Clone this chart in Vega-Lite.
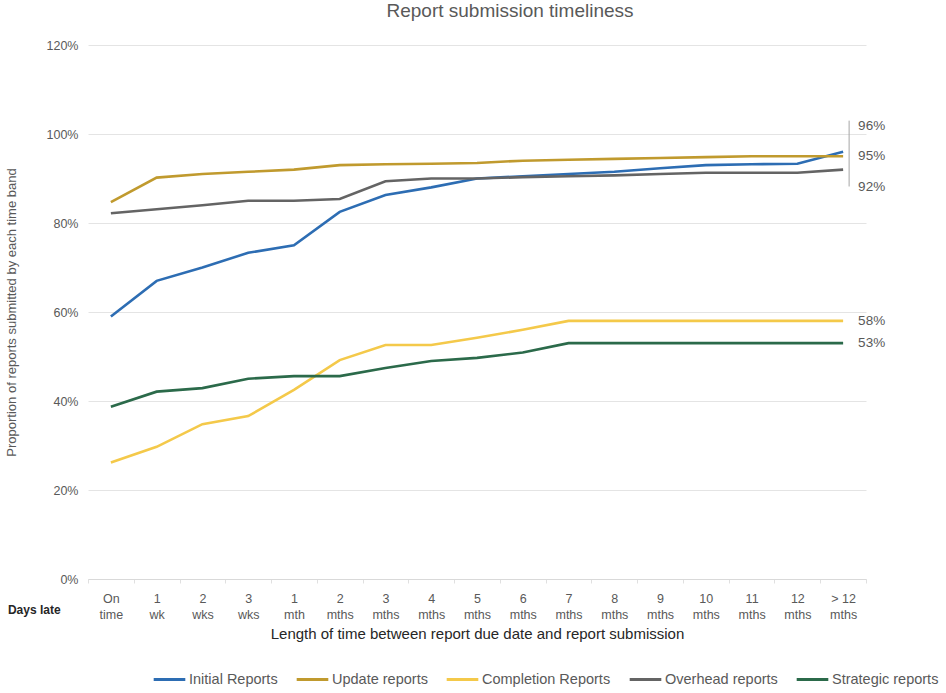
{
  "$schema": "https://vega.github.io/schema/vega-lite/v6.json",
  "width": 778,
  "height": 534,
  "autosize": {"type": "none"},
  "padding": {"left": 88, "top": 45, "right": 80, "bottom": 114},
  "background": "white",
  "title": {
    "text": "Report submission timeliness",
    "fontSize": 19,
    "fontWeight": "normal",
    "color": "#595959",
    "font": "Liberation Sans",
    "anchor": "middle",
    "frame": "group",
    "dx": 33,
    "offset": 18
  },
  "config": {
    "font": "Liberation Sans",
    "view": {"stroke": null},
    "axis": {"labelFont": "Liberation Sans", "titleFont": "Liberation Sans"},
    "legend": {"labelFont": "Liberation Sans"}
  },
  "datasets": {
    "timeliness": [
      {"band": "On time", "Initial Reports": 0.59, "Update reports": 0.847, "Completion Reports": 0.262, "Overhead reports": 0.822, "Strategic reports": 0.387},
      {"band": "1 wk", "Initial Reports": 0.67, "Update reports": 0.902, "Completion Reports": 0.297, "Overhead reports": 0.831, "Strategic reports": 0.421},
      {"band": "2 wks", "Initial Reports": 0.70, "Update reports": 0.91, "Completion Reports": 0.348, "Overhead reports": 0.84, "Strategic reports": 0.429},
      {"band": "3 wks", "Initial Reports": 0.733, "Update reports": 0.915, "Completion Reports": 0.366, "Overhead reports": 0.85, "Strategic reports": 0.45},
      {"band": "1 mth", "Initial Reports": 0.75, "Update reports": 0.92, "Completion Reports": 0.425, "Overhead reports": 0.85, "Strategic reports": 0.456},
      {"band": "2 mths", "Initial Reports": 0.825, "Update reports": 0.93, "Completion Reports": 0.492, "Overhead reports": 0.854, "Strategic reports": 0.456},
      {"band": "3 mths", "Initial Reports": 0.863, "Update reports": 0.932, "Completion Reports": 0.526, "Overhead reports": 0.894, "Strategic reports": 0.474},
      {"band": "4 mths", "Initial Reports": 0.88, "Update reports": 0.933, "Completion Reports": 0.526, "Overhead reports": 0.90, "Strategic reports": 0.49},
      {"band": "5 mths", "Initial Reports": 0.90, "Update reports": 0.935, "Completion Reports": 0.542, "Overhead reports": 0.90, "Strategic reports": 0.497},
      {"band": "6 mths", "Initial Reports": 0.905, "Update reports": 0.94, "Completion Reports": 0.56, "Overhead reports": 0.903, "Strategic reports": 0.509},
      {"band": "7 mths", "Initial Reports": 0.91, "Update reports": 0.942, "Completion Reports": 0.58, "Overhead reports": 0.905, "Strategic reports": 0.53},
      {"band": "8 mths", "Initial Reports": 0.915, "Update reports": 0.944, "Completion Reports": 0.58, "Overhead reports": 0.907, "Strategic reports": 0.53},
      {"band": "9 mths", "Initial Reports": 0.923, "Update reports": 0.946, "Completion Reports": 0.58, "Overhead reports": 0.91, "Strategic reports": 0.53},
      {"band": "10 mths", "Initial Reports": 0.93, "Update reports": 0.948, "Completion Reports": 0.58, "Overhead reports": 0.913, "Strategic reports": 0.53},
      {"band": "11 mths", "Initial Reports": 0.932, "Update reports": 0.95, "Completion Reports": 0.58, "Overhead reports": 0.913, "Strategic reports": 0.53},
      {"band": "12 mths", "Initial Reports": 0.933, "Update reports": 0.95, "Completion Reports": 0.58, "Overhead reports": 0.913, "Strategic reports": 0.53},
      {"band": "> 12 mths", "Initial Reports": 0.96, "Update reports": 0.95, "Completion Reports": 0.58, "Overhead reports": 0.92, "Strategic reports": 0.53}
    ],
    "rowCaption": [
      {"band": "On time", "floor": 0, "note": "Days late"}
    ],
    "bracket": [
      {"band": "> 12 mths", "top": 1.03, "bottom": 0.882}
    ]
  },
  "encoding": {
    "x": {
      "field": "band",
      "type": "nominal",
      "sort": ["On time", "1 wk", "2 wks", "3 wks", "1 mth", "2 mths", "3 mths", "4 mths", "5 mths", "6 mths", "7 mths", "8 mths", "9 mths", "10 mths", "11 mths", "12 mths", "> 12 mths"],
      "scale": {"type": "band", "paddingInner": 0, "paddingOuter": 0},
      "axis": {
        "title": "Length of time between report due date and report submission",
        "titleFontSize": 15,
        "titleFontWeight": "normal",
        "titleColor": "#262626",
        "titlePadding": 6,
        "labelAngle": 0,
        "labelFontSize": 12.5,
        "labelColor": "#595959",
        "labelPadding": 9,
        "labelLineHeight": 16,
        "labelExpr": "datum.label == '> 12 mths' ? ['> 12', 'mths'] : split(datum.label, ' ')",
        "ticks": true,
        "tickBand": "extent",
        "tickSize": 4,
        "tickColor": "#e0e0e0",
        "domainColor": "#d9d9d9",
        "grid": false
      }
    },
    "y": {
      "field": "share",
      "type": "quantitative",
      "scale": {"domain": [0, 1.2], "nice": false},
      "axis": {
        "title": "Proportion of reports submitted by each time band",
        "titleFontSize": 13,
        "titleFontWeight": "normal",
        "titleColor": "#595959",
        "titlePadding": 28,
        "format": ".0%",
        "values": [0, 0.2, 0.4, 0.6, 0.8, 1.0, 1.2],
        "labelFontSize": 12.5,
        "labelColor": "#595959",
        "labelPadding": 10,
        "ticks": false,
        "domain": false,
        "gridColor": "#e4e4e4"
      }
    }
  },
  "layer": [
    {
      "data": {"name": "timeliness"},
      "transform": [
        {"fold": ["Initial Reports", "Update reports", "Completion Reports", "Overhead reports", "Strategic reports"], "as": ["series", "share"]}
      ],
      "mark": {"type": "line", "strokeWidth": 2.6},
      "encoding": {
        "color": {
          "field": "series",
          "type": "nominal",
          "scale": {
            "domain": ["Initial Reports", "Update reports", "Completion Reports", "Overhead reports", "Strategic reports"],
            "range": ["#2d6db3", "#c09a2e", "#f4c94a", "#646464", "#2b6a4a"]
          },
          "legend": {
            "title": null,
            "orient": "none",
            "direction": "horizontal",
            "legendX": 64,
            "legendY": 617,
            "symbolType": "stroke",
            "symbolStrokeWidth": 3,
            "symbolSize": 1000,
            "labelFontSize": 14.5,
            "labelColor": "#595959",
            "columnPadding": 12,
            "labelOffset": 2
          }
        }
      }
    },
    {
      "data": {"name": "timeliness"},
      "transform": [
        {"fold": ["Update reports", "Completion Reports", "Strategic reports"], "as": ["series", "share"]},
        {"filter": "datum.band == '> 12 mths'"}
      ],
      "mark": {"type": "text", "align": "left", "dx": 15, "dy": 0, "fontSize": 13.5, "color": "#595959"},
      "encoding": {"text": {"field": "share", "type": "quantitative", "format": ".0%"}}
    },
    {
      "data": {"name": "timeliness"},
      "transform": [
        {"fold": ["Initial Reports"], "as": ["series", "share"]},
        {"filter": "datum.band == '> 12 mths'"}
      ],
      "mark": {"type": "text", "align": "left", "dx": 15, "dy": -26, "fontSize": 13.5, "color": "#595959"},
      "encoding": {"text": {"field": "share", "type": "quantitative", "format": ".0%"}}
    },
    {
      "data": {"name": "timeliness"},
      "transform": [
        {"fold": ["Overhead reports"], "as": ["series", "share"]},
        {"filter": "datum.band == '> 12 mths'"}
      ],
      "mark": {"type": "text", "align": "left", "dx": 15, "dy": 17, "fontSize": 13.5, "color": "#595959"},
      "encoding": {"text": {"field": "share", "type": "quantitative", "format": ".0%"}}
    },
    {
      "data": {"name": "bracket"},
      "mark": {"type": "rule", "color": "#a6a6a6", "strokeWidth": 1, "xOffset": 6},
      "encoding": {
        "y": {"field": "top", "type": "quantitative"},
        "y2": {"field": "bottom"}
      }
    },
    {
      "data": {"name": "rowCaption"},
      "mark": {"type": "text", "align": "left", "baseline": "middle", "dx": -103, "dy": 31, "fontSize": 12, "fontWeight": "bold", "color": "#262626"},
      "encoding": {
        "y": {"field": "floor", "type": "quantitative"},
        "text": {"field": "note", "type": "nominal"}
      }
    }
  ]
}
